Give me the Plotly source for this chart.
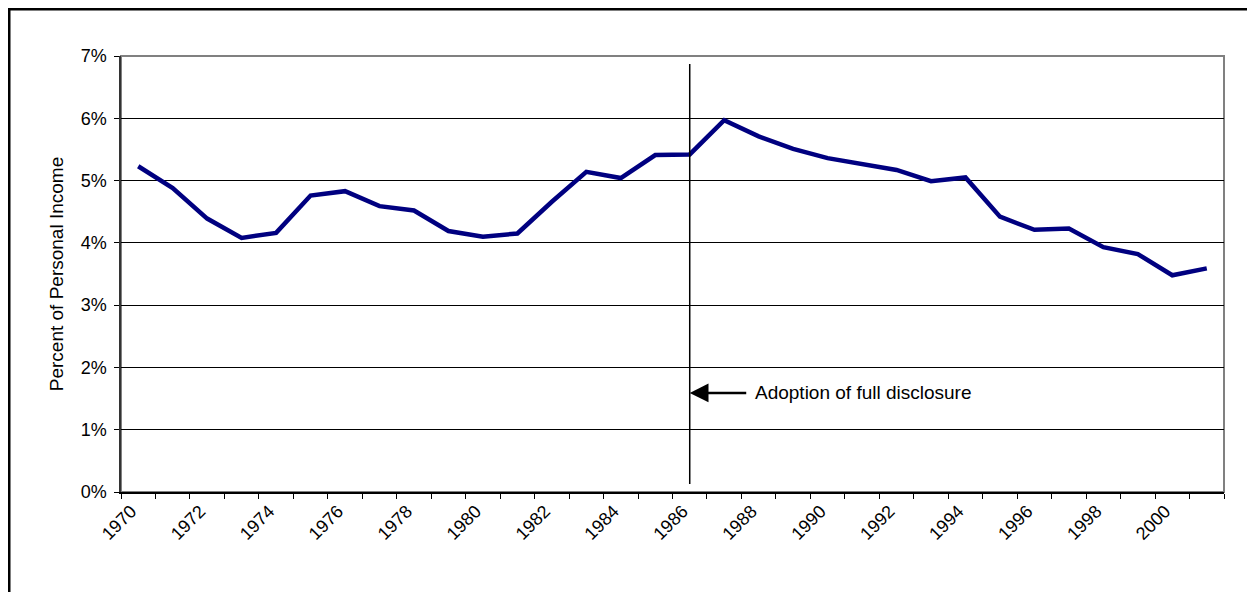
import plotly.graph_objects as go

years = list(range(1970, 2002))
pct_income = [5.23, 4.88, 4.39, 4.08, 4.16, 4.76, 4.83, 4.59, 4.52, 4.19,
              4.10, 4.15, 4.66, 5.14, 5.04, 5.41, 5.42, 5.97, 5.71, 5.51,
              5.36, 5.27, 5.17, 4.99, 5.05, 4.42, 4.21, 4.23, 3.93, 3.82,
              3.48, 3.59]
label_years = years[0:31:2]
y_ticks = [0, 1, 2, 3, 4, 5, 6, 7]
y_tick_text = [f"{v}%" for v in y_ticks]
event_year = 1986
event_label = "Adoption of full disclosure"
y_title = "Percent of Personal Income"

FONT = "Arial, 'Liberation Sans', sans-serif"
OFF = 8  # page body margin
W, H = 1255 - OFF, 592 - OFF
ML, MT = 121 - OFF, 56 - OFF
PW, PH = 1103, 436
MR, MB = W - ML - PW, H - MT - PH

fig = go.Figure()
fig.add_trace(go.Scatter(
    x=years, y=pct_income, mode="lines",
    line=dict(color="#000080", width=4.5),
    hoverinfo="x+y", showlegend=False,
))

# vertical event line
fig.add_shape(type="line", xref="x", yref="y",
              x0=event_year, x1=event_year, y0=0.13, y1=6.87,
              line=dict(color="black", width=1.5), layer="above")

# arrow
fig.add_annotation(x=event_year, y=1.59, xref="x", yref="y",
                   ax=58, ay=0, axref="pixel", ayref="pixel",
                   text="", showarrow=True, arrowhead=2, arrowsize=1.5,
                   arrowwidth=2.5, arrowcolor="black", standoff=0)
fig.add_annotation(x=event_year, y=1.59, xref="x", yref="y",
                   xshift=63, xanchor="left", yanchor="middle",
                   text=event_label, showarrow=False,
                   font=dict(family=FONT, size=19, color="black"))

# plot border (gray, top/right)
fig.add_shape(type="rect", xref="paper", yref="paper", x0=0, x1=1, y0=0, y1=1,
              line=dict(color="#808080", width=2), layer="below")

# outer frame (as close to the page corner as the svg allows)
FX, FY = 1.25, 1.25
fig.add_shape(type="rect", xref="paper", yref="paper",
              x0=(FX - ML) / PW, x1=(W + 10 - ML) / PW,
              y0=-(H + 10 - MT - PH) / PH, y1=(MT + PH - FY) / PH,
              line=dict(color="black", width=2.5), layer="above")

fig.update_layout(
    width=W, height=H,
    margin=dict(l=ML, r=MR, t=MT, b=MB),
    paper_bgcolor="white", plot_bgcolor="white",
    font=dict(family=FONT, size=18, color="black"),
    xaxis=dict(
        range=[years[0] - 0.5, years[-1] + 0.5],
        tickmode="array", tickvals=label_years,
        ticktext=[str(y) for y in label_years],
        tickangle=-45, ticks="", showgrid=False, zeroline=False,
        showline=True, linecolor="black", linewidth=1.5,
        tickfont=dict(family=FONT, size=18),
        ticklabelshift=-7,
        minor=dict(tickmode="array",
                   tickvals=[y - 0.5 for y in years] + [years[-1] + 0.5],
                   ticks="outside", ticklen=5, tickcolor="black",
                   tickwidth=1, showgrid=False),
    ),
    yaxis=dict(
        range=[0, 7], tickmode="array", tickvals=y_ticks, ticktext=y_tick_text,
        ticks="outside", ticklen=5, tickcolor="black", tickwidth=1,
        showgrid=True, gridcolor="black", gridwidth=1,
        zeroline=False, showline=True, linecolor="#333333", linewidth=1.5,
        tickfont=dict(family=FONT, size=18),
        ticklabelstandoff=4,
        title=dict(text=y_title, font=dict(family=FONT, size=19), standoff=12),
    ),
)

fig.write_html("out.html")
